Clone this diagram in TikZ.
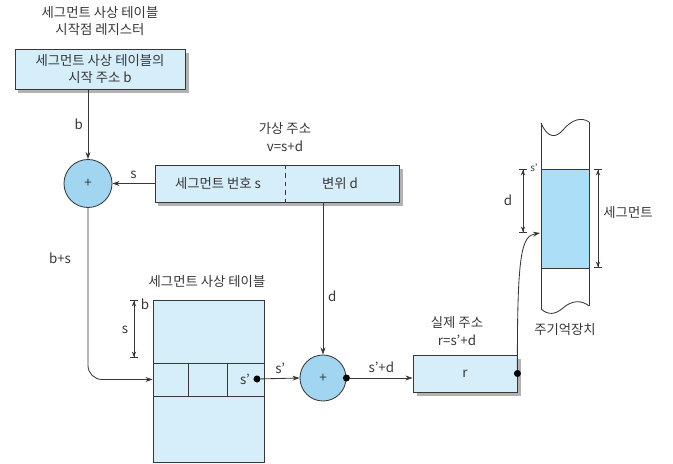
\documentclass[tikz,border=0pt]{standalone}
\usepackage{fontspec}
\setmainfont{Noto Sans CJK KR}
\usepackage{xcolor}
\usepackage{tikz}
\usetikzlibrary{arrows.meta,shadows}

\definecolor{paleblue}{RGB}{214,237,250}
\definecolor{midblue}{RGB}{162,213,240}
\definecolor{segblue}{RGB}{172,222,247}
\definecolor{inkgray}{RGB}{55,55,55}

\begin{document}
\begin{tikzpicture}[x=0.025cm, y=-0.025cm,
    font=\fontsize{9.5}{12.5}\selectfont, text=inkgray,
    line/.style={draw=inkgray, line width=0.6pt},
    flow/.style={line, -{Stealth[length=5pt,width=3.5pt]}},
    dim/.style={line, {Bar[width=5pt]Stealth[length=4pt,width=3pt]}-{Stealth[length=4pt,width=3pt]Bar[width=5pt]}},
    shade/.style={drop shadow={shadow xshift=2.5pt, shadow yshift=-2.5pt, fill=black, opacity=0.3}},
    regbox/.style={line, fill=paleblue, shade, align=center, inner sep=0pt},
    adder/.style={circle, line, fill=midblue, minimum size=1.2cm, inner sep=0pt},
    tip/.style={circle, fill=black, inner sep=0pt, minimum size=5pt}]
    \useasboundingbox (0,0) rectangle (673,464);

    % Start register
    \node[align=center] (regtitle) at (100,21) {세그먼트 사상 테이블\\시작점 레지스터};
    \node[regbox, minimum width=4.25cm, minimum height=1cm] (startreg) at (100,69) {세그먼트 사상 테이블의\\시작 주소 b};

    % Virtual address
    \node[align=center] (vtitle) at (285,137) {가상 주소\\v=s+d};
    \node[regbox, minimum width=6.1cm, minimum height=0.925cm] (vaddr) at (277,183.5) {};
    \node (segno) at (218,183.5) {세그먼트 번호 s};
    \node (offset) at (340,183.5) {변위 d};
    \draw[line, dashed] (285,165) -- (285,202);

    % Adders
    \node[adder] (add1) at (88,183.5) {+};
    \node[adder, minimum size=1.15cm] (add2) at (323,378) {+};

    % Segment map table
    \node (tabtitle) at (207,282) {세그먼트 사상 테이블};
    \node[line, fill=paleblue, minimum width=2.775cm, minimum height=4.05cm] (maptab) at (208.5,381) {};
    \node[line, minimum width=2.775cm, minimum height=0.825cm] (maprow) at (208.5,379.5) {};
    \draw[line] (188,363) -- (188,396) (227,363) -- (227,396);
    \node (sprime) at (245,379) {s'};
    \node[tip] (sdot) at (257,379) {};
    \draw[dim] (134,300) -- (134,358);
    \node (tabb) at (145,304) {b};
    \node (tabs) at (125,330) {s};

    % Real address
    \node[align=center] (rtitle) at (457,331) {실제 주소\\r=s'+d};
    \node[regbox, minimum width=2.6cm, minimum height=0.925cm] (raddr) at (465,373.5) {r};
    \node[tip] (rdot) at (raddr.east) {};
    \node[tip] (adot) at (add2.east) {};

    % Main memory
    \fill[segblue] (541,169) rectangle (589,268);
    \draw[line] (541,169) -- (589,169) (541,268) -- (589,268);
    \draw[line] (541,123) -- (541,309) (589,122) -- (589,306);
    \draw[line] (541,123) .. controls (548,139) and (556,138) .. (563,130) .. controls (572,119) and (582,117) .. (589,122);
    \draw[line] (541,309) .. controls (548,315) and (555,315) .. (563,308) .. controls (572,300) and (582,300) .. (589,306);
    \coordinate (memin) at (540,233);
    \draw[dim] (523,169) -- (523,233);
    \node (memd) at (508,200) {d};
    \node[font=\fontsize{7}{8}\selectfont] (mems) at (534,168) {s'};
    \draw[dim] (598,169) -- (598,268);
    \node (segtext) at (628,213) {세그먼트};
    \node (memtitle) at (565,330) {주기억장치};

    % Connectors
    \draw[flow] (add1 |- startreg.south) -- node[left] {b} (add1.north);
    \draw[flow] (vaddr.west) -- node[above] {s} (add1.east);
    \draw[flow] (add2 |- vaddr.south) -- node[right, pos=0.62] {d} (add2.north);
    \draw[flow, rounded corners=10pt] (add1.south) |- (maprow.west);
    \node (bs) at (60,258) {b+s};
    \draw[flow] (sdot) -- node[above] {s'} (add2.west);
    \draw[flow] (adot) -- node[above] {s'+d} (adot -| raddr.west);
    \draw[flow] (rdot) .. controls (517,250) and (522,236) .. (memin);
\end{tikzpicture}
\end{document}
